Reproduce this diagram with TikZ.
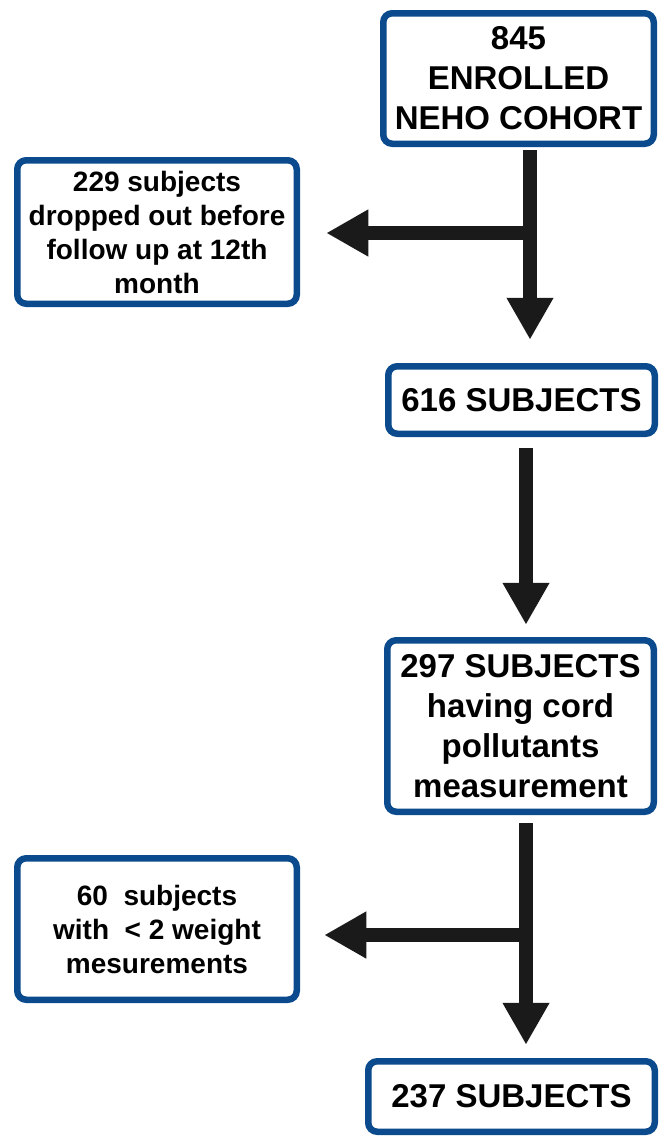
\documentclass[tikz,border=0pt]{standalone}
\usepackage{fontspec}
\setmainfont{Liberation Sans}
\usetikzlibrary{arrows.meta}
\definecolor{boxblue}{HTML}{0B4A8C}
\definecolor{arrowblack}{HTML}{1A1A1A}
\begin{document}
\begin{tikzpicture}[x=1pt,y=-1pt,
  box/.style={draw=boxblue, line width=6.5pt, rounded corners=9pt, fill=white,
    align=center, inner sep=0pt, font=\bfseries\fontsize{33}{40}\selectfont},
  sidebox/.style={box, font=\bfseries\fontsize{28}{34}\selectfont},
  flow/.style={draw=arrowblack, line width=14pt, -{Triangle[length=42pt,width=44pt]}}]
\useasboundingbox (0,0) rectangle (667,1136);
\node[box, minimum width=270.5pt, minimum height=130.5pt] (top) at (518.5,78.5)
  {845\\ENROLLED\\NEHO COHORT};
\node[box, minimum width=266.5pt, minimum height=67.5pt] (s616) at (521.5,400)
  {616 SUBJECTS};
\node[box, minimum width=266.5pt, minimum height=171.5pt] (s297) at (520.5,726)
  {297 SUBJECTS\\having cord\\pollutants\\measurement};
\node[box, minimum width=286.5pt, minimum height=70.5pt] (s237) at (511.5,1096.5)
  {237 SUBJECTS};
\node[sidebox, minimum width=279.5pt, minimum height=143.5pt] (drop1) at (157,232)
  {229 subjects\\dropped out before\\follow up at 12th\\month};
\node[sidebox, minimum width=279.5pt, minimum height=141.5pt] (drop2) at (157,929)
  {60\ \ subjects\\with\ \ < 2 weight\\mesurements};
\coordinate (j1) at (530,233);
\coordinate (c2) at (526,500);
\coordinate (j2) at (526,935);
\draw[flow, shorten >=23.25pt] ([yshift=-3.25pt]top.south -| j1) -- (s616.north -| j1);
\draw[flow, shorten >=26.25pt] (j1) -- (drop1.east |- j1);
\draw[flow, shorten >=12.25pt] ([yshift=-11.25pt]s616.south -| c2) -- (s297.north -| c2);
\draw[flow, shorten >=13.25pt] ([yshift=-8.25pt]s297.south -| j2) -- (s237.north -| j2);
\draw[flow, shorten >=24.25pt] (j2) -- (drop2.east |- j2);
\end{tikzpicture}
\end{document}
